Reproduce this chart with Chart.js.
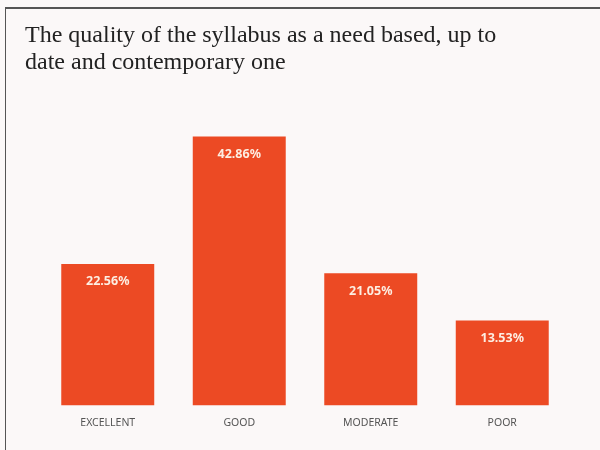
<!DOCTYPE html>
<html>
<head>
<meta charset="utf-8">
<script src="https://cdn.jsdelivr.net/npm/chart.js@4.4.0/dist/chart.umd.min.js"></script>
<style>
  html, body { margin: 0; padding: 0; background: #fbf8f8; }
  #wrap { position: relative; width: 600px; height: 450px; }
  #frame { position: absolute; left: 5px; top: 7px; width: 600px; height: 450px;
           border-left: 1.5px solid #555; border-top: 2px solid #555; pointer-events: none; }
</style>
</head>
<body>
<div id="wrap">
  <canvas id="grafico" width="600" height="450"></canvas>
  <div id="frame"></div>
</div>
<script>
var categorias = ['EXCELLENT', 'GOOD', 'MODERATE', 'POOR']
var valores = [22.56, 42.86, 21.05, 13.53]
var rotulos = ['22.56%', '42.86%', '21.05%', '13.53%']
var titulo = ['The quality of the syllabus as a need based, up to', 'date and contemporary one']

// escreve a porcentagem dentro do topo de cada barra
var rotulosBarras = {
    id: 'rotulosBarras',
    afterDatasetsDraw: function(chart){
        var ctx = chart.ctx
        var meta = chart.getDatasetMeta(0)
        ctx.save()
        ctx.font = 'bold 12.5px "Noto Sans"'
        ctx.fillStyle = '#fdeee2'
        ctx.textAlign = 'center'
        ctx.textBaseline = 'middle'
        meta.data.forEach(function(barra, i){
            ctx.fillText(rotulos[i], barra.x, barra.y + 18)
        })
        ctx.restore()
    }
}

var ctx = document.getElementById('grafico').getContext('2d')
var chart = new Chart(ctx, {
    type: 'bar',
    data: {
        labels: categorias,
        datasets: [{
            data: valores,
            backgroundColor: '#ec4a24',
            borderWidth: 0,
            categoryPercentage: 1,
            barPercentage: 0.707
        }]
    },
    options: {
        responsive: false,
        animation: false,
        layout: { padding: { top: 0, left: 25, right: 32, bottom: 10 } },
        plugins: {
            legend: { display: false },
            tooltip: { enabled: false },
            title: {
                display: true,
                text: titulo,
                align: 'start',
                color: '#222',
                font: { family: '"Liberation Serif"', size: 24, weight: 'normal', lineHeight: 1.1 },
                padding: { top: 23, bottom: 16 }
            }
        },
        scales: {
            x: {
                grid: { display: false, drawTicks: false },
                border: { display: false },
                ticks: { color: '#555', padding: 11, font: { family: '"Noto Sans"', size: 10.5 } }
            },
            y: {
                min: 0,
                max: 50,
                grid: { display: false },
                border: { display: false },
                ticks: { display: false },
                afterFit: function(s){ s.width = 17 }
            }
        }
    },
    plugins: [rotulosBarras]
})
</script>
</body>
</html>
